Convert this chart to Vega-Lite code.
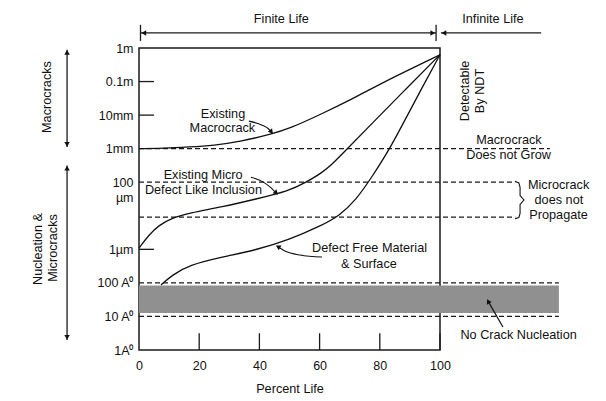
{
  "$schema": "https://vega.github.io/schema/vega-lite/v6.json",
  "width": 301,
  "height": 302,
  "autosize": {"type": "none"},
  "padding": {"left": 139, "top": 48, "right": 166, "bottom": 51},
  "background": "white",
  "config": {
    "view": {"stroke": "#1a1a1a", "strokeWidth": 1.5},
    "font": "Liberation Sans",
    "axis": {"labelFont": "Liberation Sans", "titleFont": "Liberation Sans", "labelColor": "#111", "titleColor": "#111", "titleFontWeight": "normal", "grid": false, "domain": false, "ticks": false, "labelFlush": false, "labelOverlap": false, "labelBound": false},
    "text": {"font": "Liberation Sans", "fontSize": 12.7, "color": "#111"}
  },
  "datasets": {
    "band": [{"x": 0, "x2": 139.5, "y": 1.1, "y2": 1.92}],
    "curves": [
      {"c": "macro", "x": 0, "y": 6.0}, {"c": "macro", "x": 8, "y": 6.01}, {"c": "macro", "x": 16.6, "y": 6.05}, {"c": "macro", "x": 25, "y": 6.1}, {"c": "macro", "x": 33.2, "y": 6.2}, {"c": "macro", "x": 44.2, "y": 6.44}, {"c": "macro", "x": 49.8, "y": 6.59}, {"c": "macro", "x": 60.8, "y": 7.04}, {"c": "macro", "x": 72.1, "y": 7.54}, {"c": "macro", "x": 83.1, "y": 8.07}, {"c": "macro", "x": 100, "y": 8.8},
      {"c": "micro", "x": 0, "y": 3.04}, {"c": "micro", "x": 3.3, "y": 3.43}, {"c": "micro", "x": 6.6, "y": 3.72}, {"c": "micro", "x": 11, "y": 3.93}, {"c": "micro", "x": 16.6, "y": 4.08}, {"c": "micro", "x": 27.6, "y": 4.26}, {"c": "micro", "x": 38.9, "y": 4.5}, {"c": "micro", "x": 49.8, "y": 4.74}, {"c": "micro", "x": 55.5, "y": 5.0}, {"c": "micro", "x": 60.8, "y": 5.28}, {"c": "micro", "x": 64.3, "y": 5.55}, {"c": "micro", "x": 67.4, "y": 5.83}, {"c": "micro", "x": 77.4, "y": 6.75}, {"c": "micro", "x": 88.7, "y": 7.78}, {"c": "micro", "x": 100, "y": 8.8},
      {"c": "free", "x": 7.3, "y": 1.94}, {"c": "free", "x": 11, "y": 2.23}, {"c": "free", "x": 16.6, "y": 2.53}, {"c": "free", "x": 27.6, "y": 2.77}, {"c": "free", "x": 38.9, "y": 2.98}, {"c": "free", "x": 49.8, "y": 3.28}, {"c": "free", "x": 60.8, "y": 3.72}, {"c": "free", "x": 66.4, "y": 3.99}, {"c": "free", "x": 72.1, "y": 4.47}, {"c": "free", "x": 77.4, "y": 5.16}, {"c": "free", "x": 83.1, "y": 5.96}, {"c": "free", "x": 88.7, "y": 6.91}, {"c": "free", "x": 94, "y": 7.81}, {"c": "free", "x": 100, "y": 8.8}
    ],
    "dashed": [
      {"x": 0, "x2": 136.5, "y": 6, "y2": 6},
      {"x": 0, "x2": 125, "y": 5, "y2": 5},
      {"x": 0, "x2": 125, "y": 3.96, "y2": 3.96},
      {"x": 0, "x2": 139.5, "y": 2, "y2": 2},
      {"x": 0, "x2": 139.5, "y": 1, "y2": 1}
    ],
    "rules": [
      {"x": 0.5, "x2": 98.7, "y": 9.45, "y2": 9.45},
      {"x": 0.5, "x2": 0.5, "y": 9.69, "y2": 9.21},
      {"x": 98.7, "x2": 98.7, "y": 9.69, "y2": 9.21},
      {"x": 100.3, "x2": 133.6, "y": 9.45, "y2": 9.45},
      {"x": -23.9, "x2": -23.9, "y": 8.95, "y2": 6.05},
      {"x": -23.9, "x2": -23.9, "y": 5.5, "y2": 0.3},
      {"x": 120.9, "x2": 116.2, "y": 0.685, "y2": 1.42},
      {"x": 0, "x2": 5, "y": 8, "y2": 8},
      {"x": 0, "x2": 5, "y": 7, "y2": 7},
      {"x": 0, "x2": 5, "y": 3, "y2": 3},
      {"x": 20, "x2": 20, "y": 0, "y2": 0.5},
      {"x": 40, "x2": 40, "y": 0, "y2": 0.5},
      {"x": 60, "x2": 60, "y": 0, "y2": 0.5},
      {"x": 80, "x2": 80, "y": 0, "y2": 0.5},
      {"x": 100, "x2": 100, "y": 0, "y2": 0.5}
    ],
    "arrows": [
      {"a": "m", "x": 36.5, "y": 6.82}, {"a": "m", "x": 40.9, "y": 6.7}, {"a": "m", "x": 42.9, "y": 6.6}, {"a": "m", "x": 44.2, "y": 6.47},
      {"a": "i", "x": 37.2, "y": 5.15}, {"a": "i", "x": 41.2, "y": 5.01}, {"a": "i", "x": 43.9, "y": 4.83}, {"a": "i", "x": 45.8, "y": 4.65},
      {"a": "f", "x": 45.8, "y": 3.1}, {"a": "f", "x": 48.5, "y": 2.95}, {"a": "f", "x": 53.5, "y": 2.83}, {"a": "f", "x": 60.8, "y": 2.77}
    ],
    "heads": [
      {"x": 1.6, "y": 9.45, "dir": 270},
      {"x": 97.6, "y": 9.45, "dir": 90},
      {"x": 101.3, "y": 9.45, "dir": 270},
      {"x": -23.9, "y": 8.87, "dir": 0},
      {"x": -23.9, "y": 6.13, "dir": 180},
      {"x": -23.9, "y": 5.42, "dir": 0},
      {"x": -23.9, "y": 0.38, "dir": 180},
      {"x": 44.0, "y": 6.5, "dir": 141},
      {"x": 45.6, "y": 4.68, "dir": 135},
      {"x": 46.2, "y": 3.08, "dir": 302},
      {"x": 116.0, "y": 1.45, "dir": 331}
    ],
    "brace": [
      {"i": 1, "x": 124.9, "y": 5.03}, {"i": 2, "x": 126.2, "y": 4.98}, {"i": 3, "x": 126.6, "y": 4.85}, {"i": 4, "x": 126.6, "y": 4.6}, {"i": 5, "x": 127.9, "y": 4.47}, {"i": 6, "x": 126.6, "y": 4.34}, {"i": 7, "x": 126.6, "y": 4.07}, {"i": 8, "x": 126.2, "y": 3.95}, {"i": 9, "x": 124.9, "y": 3.91}
    ],
    "labels": [
      {"x": 47.3, "y": 9.86, "t": "Finite Life"},
      {"x": 117.6, "y": 9.86, "t": "Infinite Life"},
      {"x": 27.9, "y": 7.03, "t": "Existing"},
      {"x": 27.7, "y": 6.62, "t": "Macrocrack"},
      {"x": 21.3, "y": 5.21, "t": "Existing Micro"},
      {"x": 21.4, "y": 4.77, "t": "Defect Like Inclusion"},
      {"x": 76.6, "y": 3.04, "t": "Defect Free Material"},
      {"x": 76.4, "y": 2.56, "t": "& Surface"},
      {"x": 122.9, "y": 6.26, "t": "Macrocrack"},
      {"x": 122.8, "y": 5.81, "t": "Does not Grow"},
      {"x": 139.4, "y": 4.92, "t": "Microcrack"},
      {"x": 139.5, "y": 4.47, "t": "does not"},
      {"x": 139.4, "y": 4.02, "t": "Propagate"},
      {"x": 126.1, "y": 0.45, "t": "No Crack Nucleation"}
    ],
    "vlabels": [
      {"x": -30.6, "y": 7.54, "t": "Macrocracks"},
      {"x": -33.6, "y": 3.01, "t": "Nucleation &"},
      {"x": -28.6, "y": 3.04, "t": "Microcracks"},
      {"x": 108.3, "y": 7.72, "t": "Detectable"},
      {"x": 113.3, "y": 7.72, "t": "By NDT"}
    ]
  },
  "encoding": {
    "x": {"field": "x", "type": "quantitative", "scale": {"domain": [0, 100], "nice": false, "zero": false},
      "axis": {"values": [0, 20, 40, 60, 80, 100], "labelPadding": 9, "labelFontSize": 12.5, "title": "Percent Life", "titleFontSize": 12.7, "titlePadding": 11}},
    "y": {"field": "y", "type": "quantitative", "scale": {"domain": [0, 9], "nice": false, "zero": false},
      "axis": {"values": [0, 1, 2, 3, 5, 6, 7, 8, 9], "labelPadding": 6, "labelFontSize": 12.5, "labelLineHeight": 15, "title": null,
        "labelExpr": "datum.value==9?'1m':datum.value==8?'0.1m':datum.value==7?'10mm':datum.value==6?'1mm':datum.value==5?['100','µm']:datum.value==3?'1µm':datum.value==2?'100 A⁰':datum.value==1?'10 A⁰':'1A⁰'"}}
  },
  "layer": [
    {"data": {"name": "band"}, "mark": {"type": "rect", "fill": "#909090"},
      "encoding": {"x2": {"field": "x2"}, "y2": {"field": "y2"}}},
    {"data": {"name": "dashed"}, "mark": {"type": "rule", "stroke": "#1a1a1a", "strokeWidth": 1.2, "strokeDash": [5, 3]},
      "encoding": {"x2": {"field": "x2"}, "y2": {"field": "y2"}}},
    {"data": {"name": "rules"}, "mark": {"type": "rule", "stroke": "#1a1a1a", "strokeWidth": 1.3},
      "encoding": {"x2": {"field": "x2"}, "y2": {"field": "y2"}}},
    {"data": {"name": "curves"}, "mark": {"type": "line", "stroke": "#111", "strokeWidth": 1.3, "interpolate": "basis"},
      "encoding": {"detail": {"field": "c"}}},
    {"data": {"name": "arrows"}, "mark": {"type": "line", "stroke": "#111", "strokeWidth": 1.1, "interpolate": "monotone"},
      "encoding": {"detail": {"field": "a"}}},
    {"data": {"name": "brace"}, "mark": {"type": "line", "stroke": "#111", "strokeWidth": 1.1, "interpolate": "linear"},
      "encoding": {"order": {"field": "i"}}},
    {"data": {"name": "heads"}, "mark": {"type": "point", "shape": "triangle-up", "filled": true, "size": 30, "color": "#111", "opacity": 1},
      "encoding": {"angle": {"field": "dir", "type": "quantitative", "scale": null}}},
    {"data": {"name": "labels"}, "mark": {"type": "text", "align": "center", "baseline": "middle"},
      "encoding": {"text": {"field": "t"}}},
    {"data": {"name": "vlabels"}, "mark": {"type": "text", "align": "center", "baseline": "middle", "angle": 270},
      "encoding": {"text": {"field": "t"}}}
  ]
}
